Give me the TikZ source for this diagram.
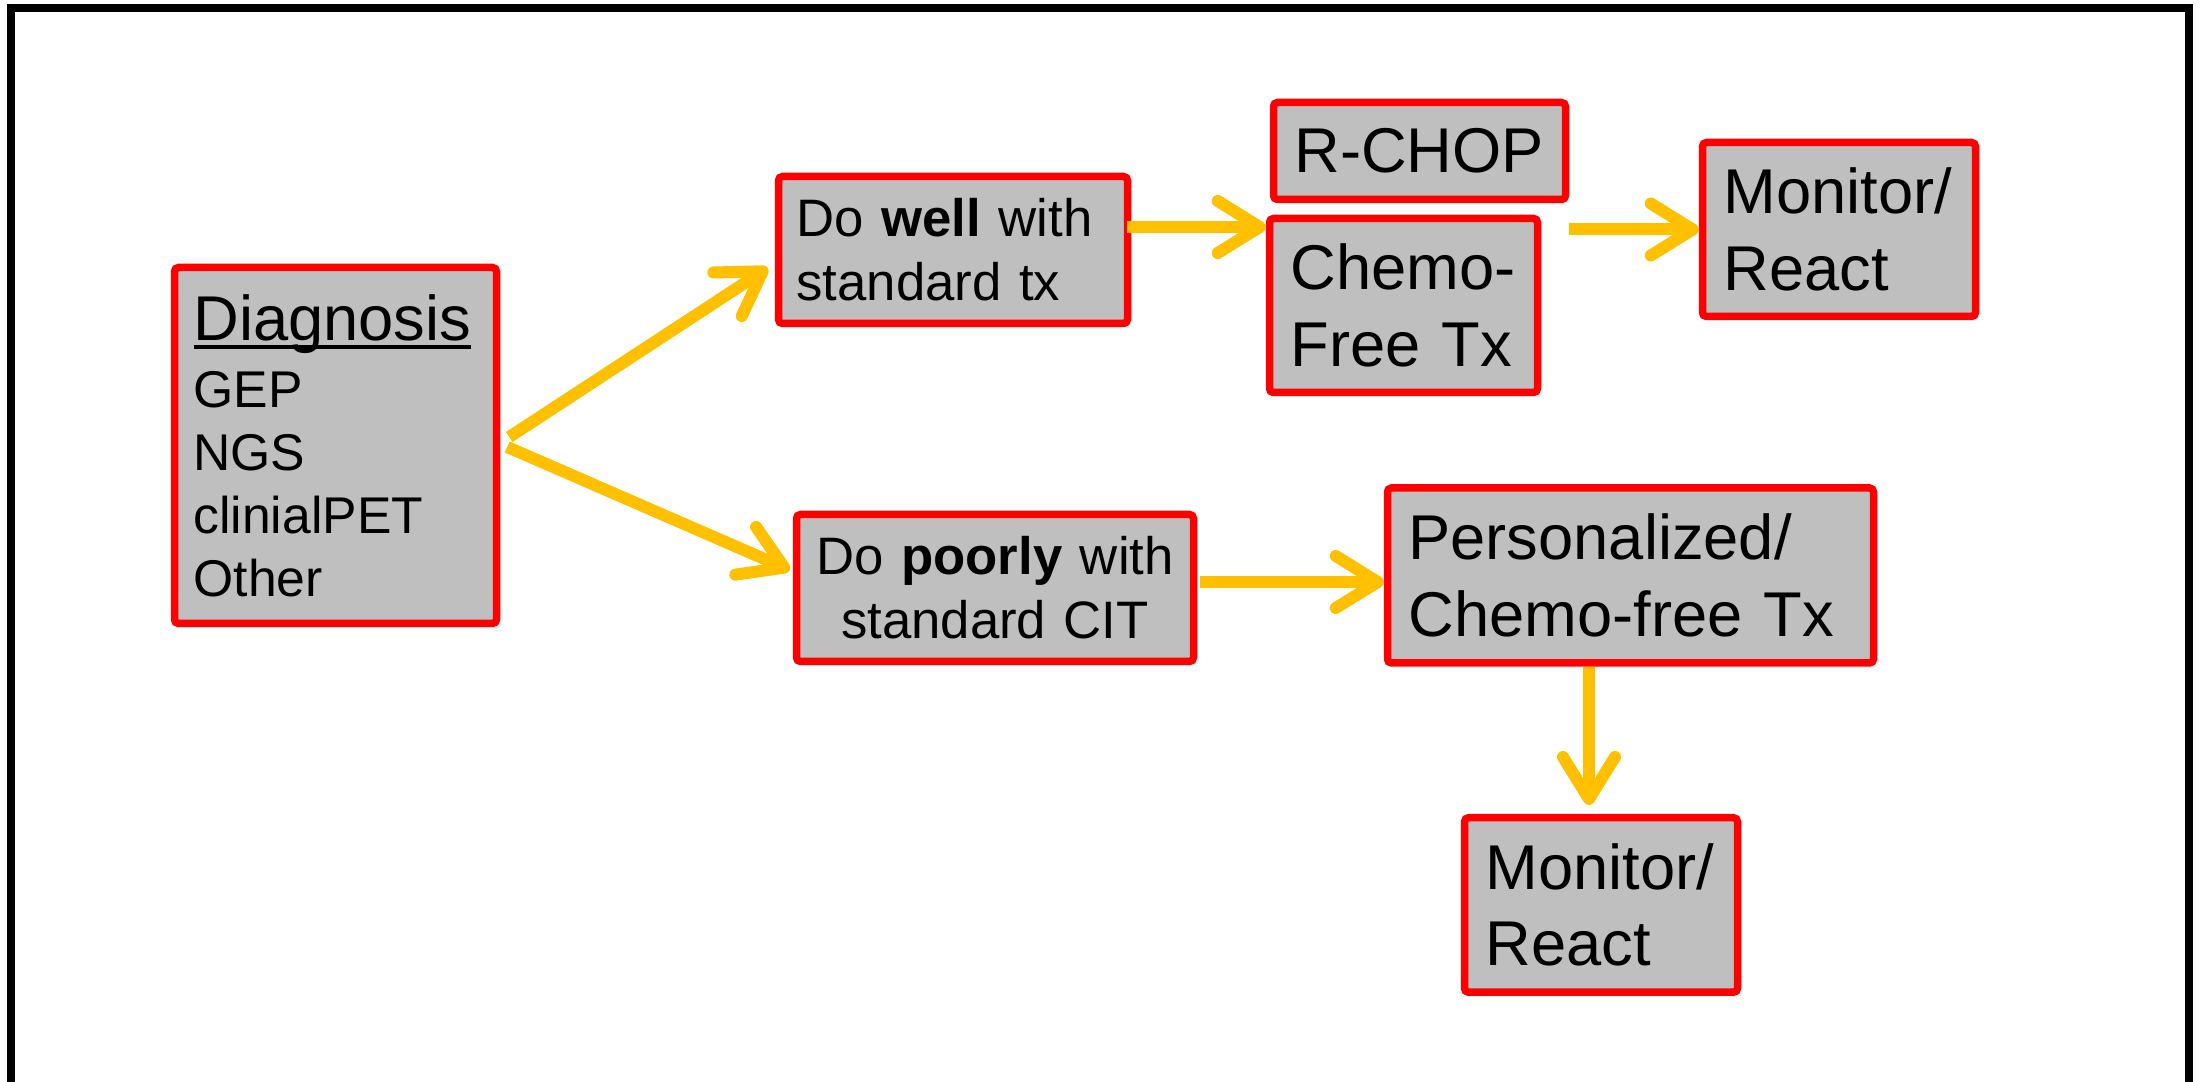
\documentclass[tikz,border=0pt]{standalone}
\usepackage{fontspec}
\setmainfont{Liberation Sans}
\usetikzlibrary{arrows.meta,positioning,calc}

\definecolor{boxred}{HTML}{FF0000}
\definecolor{boxgray}{HTML}{BFBFBF}
\definecolor{flowgold}{HTML}{FFC000}

\newcommand{\headline}[1]{\setbox0\hbox{#1}\rlap{\rule[-0.85mm]{\wd0}{0.35mm}}\box0}

\tikzset{
  box/.style={draw=boxred, fill=boxgray, line width=0.75mm, rounded corners=0.4mm,
    inner xsep=2.1mm, inner ysep=0pt, align=left},
  bigtxt/.style={font=\fontsize{18}{21.8}\selectfont},
  midtxt/.style={font=\fontsize{15}{18.2}\selectfont},
  smalltxt/.style={font=\fontsize{14.7}{17.9}\selectfont},
  flow/.style={draw=flowgold, line width=1.2mm, -{Straight Barb[length=4.2mm,width=5.2mm,round]}}
}

\begin{document}
\begin{tikzpicture}[scale=1.0]
\useasboundingbox (0,0) rectangle (22.04,10.82);

% outer frame
\draw[line width=0.8mm] (0.11,0) -- (0.11,10.74) -- (21.89,10.74) -- (21.89,0);

% Diagnosis
\node[box, smalltxt, text width=2.84cm, minimum height=3.56cm, inner xsep=1.9mm] (diag) at (3.355,6.365)
  {{\fontsize{18}{19}\selectfont\headline{Diagnosis}}\\[1.2pt]
   GEP\\NGS\\clinialPET\\Other};

% standard treatment branches
\node[box, midtxt, text width=3.13cm, minimum height=1.47cm, inner xsep=1.8mm] (well) at (9.53,8.32)
  {Do \textbf{well} with\\standard tx};
\node[box, midtxt, text width=3.75cm, minimum height=1.47cm, inner xsep=1.1mm, align=center] (poor) at (9.95,4.94)
  {Do \textbf{poorly} with\\standard CIT};

% upper path
\node[box, bigtxt, text width=2.50cm, minimum height=0.97cm] (rchop) at (14.195,9.31) {R-CHOP};
\node[box, bigtxt, text width=2.26cm, minimum height=1.74cm] (chemo) at (14.035,7.765)
  {Chemo-\\Free Tx};
\node[box, bigtxt, text width=2.31cm, minimum height=1.74cm] (monA) at (18.39,8.525)
  {Monitor/\\React};

% lower path
\node[box, bigtxt, text width=4.44cm, minimum height=1.75cm] (pers) at (16.305,5.065)
  {Personalized/\\Chemo-free Tx};
\node[box, bigtxt, text width=2.31cm, minimum height=1.745cm] (monB) at (16.01,1.77)
  {Monitor/\\React};

% connectors
\draw[flow] ([shift={(0.9mm,0.85mm)}]diag.east) -- ([shift={(-0.7mm,-1.8mm)}]well.west);
\draw[flow] ([shift={(0.7mm,-0.15mm)}]diag.east) -- ([shift={(-0.3mm,1.8mm)}]poor.west);
\draw[flow] ([shift={(-0.4mm,2.3mm)}]well.east) -- ([yshift=2.3mm]well.east -| chemo.west);
\draw[flow] (monA.west -| rchop.east) -- (monA.west);
\draw[flow] ([shift={(0.3mm,0.6mm)}]poor.east) -- ([yshift=0.6mm]poor.east -| pers.west);
\draw[flow] ([xshift=-1.2mm]monB.north |- pers.south) -- ([shift={(-1.2mm,0.9mm)}]monB.north);
\end{tikzpicture}
\end{document}
